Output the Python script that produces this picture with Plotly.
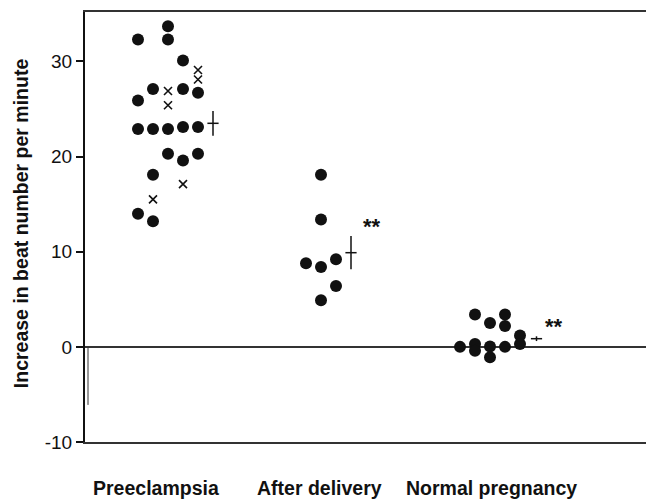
import plotly.graph_objects as go

# ---- data ----
categories = ["Preeclampsia", "After delivery", "Normal pregnancy"]

pre_dot_values = [32.3, 33.7, 32.3, 30.1, 27.1, 27.1, 26.7, 25.9,
                  22.9, 22.9, 22.9, 23.1, 23.1, 20.3, 19.6, 20.3, 18.1, 14.0, 13.2]
pre_cross_values = [29.1, 28.1, 26.9, 25.4, 17.1, 15.5]
post_values = [18.1, 13.4, 8.8, 8.4, 9.2, 6.4, 4.9]
normal_values = [3.4, 2.5, 3.4, 2.2, 0.0, 0.3, -0.4, 0.05, -1.1, 0.0, 1.2, 0.3]

group_means = [23.5, 9.9, 0.86]
group_sems = [1.3, 1.75, 0.25]
significance = ["", "**", "**"]
y_ticks = [-10, 0, 10, 20, 30]

# ---- layout helpers (beeswarm columns, not data) ----
pre_dot_cols = [0, 2, 2, 3, 1, 3, 4, 0, 0, 1, 2, 3, 4, 2, 3, 4, 1, 0, 1]
pre_cross_cols = [4, 4, 2, 2, 3, 1]
post_cols = [1, 1, 0, 1, 2, 2, 1]
normal_cols = [1, 2, 3, 3, 0, 1, 1, 2, 2, 3, 4, 4]

group_start = [53, 221, 375]     # x of column 0 for each group (axis units)
col_step = 15
mean_col = [5, 3, 5.1]
label_x = [70.5, 234.5, 406.5]
star_x = [0, 287, 469]
star_y = [0, 12.7, 2.1]

def xs(g, cols):
    return [group_start[g] + c * col_step for c in cols]

INK = "#111111"
FONT = "Liberation Sans, Arial"
dot = dict(color=INK, size=12, line=dict(width=0))

fig = go.Figure()
fig.add_trace(go.Scatter(x=xs(0, pre_dot_cols), y=pre_dot_values, mode="markers",
                         marker=dot, showlegend=False))
fig.add_trace(go.Scatter(x=xs(0, pre_cross_cols), y=pre_cross_values, mode="markers",
                         marker=dict(symbol="x-thin", size=8, color=INK,
                                     line=dict(width=1.6, color=INK)), showlegend=False))
fig.add_trace(go.Scatter(x=xs(1, post_cols), y=post_values, mode="markers",
                         marker=dot, showlegend=False))
fig.add_trace(go.Scatter(x=xs(2, normal_cols), y=normal_values, mode="markers",
                         marker=dot, showlegend=False))

# mean +/- SEM markers
fig.add_trace(go.Scatter(
    x=[group_start[g] + mean_col[g] * col_step for g in range(3)],
    y=group_means, mode="markers",
    marker=dict(symbol="line-ew", size=8, color=INK, line=dict(width=1.5, color=INK)),
    error_y=dict(type="data", array=group_sems, width=0, thickness=1.5, color=INK),
    showlegend=False))

annotations = []
for g in range(3):
    annotations.append(dict(x=label_x[g], y=-0.108, xref="x", yref="paper",
                            text="<b>" + categories[g] + "</b>", showarrow=False,
                            font=dict(family=FONT, size=19.5, color=INK),
                            xanchor="center", yanchor="middle"))
    if significance[g]:
        annotations.append(dict(x=star_x[g], y=star_y[g], xref="x", yref="y",
                                text="<b>" + significance[g] + "</b>", showarrow=False,
                                font=dict(family=FONT, size=22, color=INK),
                                xanchor="center", yanchor="middle"))
annotations.append(dict(x=-0.115, y=0.51, xref="paper", yref="paper",
                        text="<b>Increase in beat number per minute</b>", textangle=-90,
                        showarrow=False,
                        font=dict(family=FONT, size=19.5, color=INK),
                        xanchor="center", yanchor="middle"))

fig.add_shape(type="line", x0=3, x1=3, y0=0, y1=-6.1, xref="x", yref="y",
              line=dict(color="#333333", width=1))

fig.update_layout(
    width=646, height=502,
    margin=dict(l=85, r=0, t=12, b=60, pad=0),
    paper_bgcolor="white", plot_bgcolor="white",
    annotations=annotations,
    xaxis=dict(range=[0, 561], showgrid=False, zeroline=False, showticklabels=False,
               ticks="", showline=True, linecolor="#333333", linewidth=2, mirror=True),
    yaxis=dict(range=[-10, 35.2], showgrid=False, tickvals=y_ticks,
               ticktext=[str(v) for v in y_ticks], ticks="outside", ticklen=7,
               tickwidth=1.5, tickcolor=INK,
               tickfont=dict(family=FONT, size=19, color=INK),
               showline=True, linecolor=INK, linewidth=2,
               zeroline=True, zerolinecolor="#333333", zerolinewidth=1.5),
)

fig.write_html("out.html", config={"displayModeBar": False},
               post_script="document.body.style.margin='0';document.body.style.overflow='hidden';")
